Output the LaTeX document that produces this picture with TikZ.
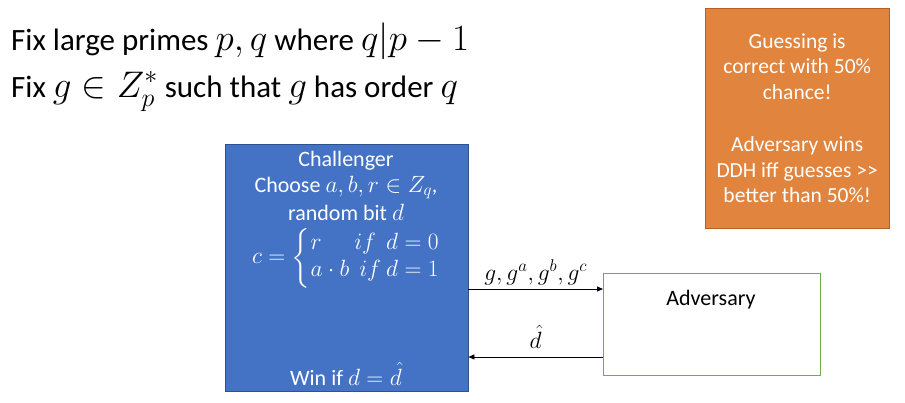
\RequirePackage{fix-cm}
\documentclass[tikz,border=0pt]{standalone}
\usepackage{amsmath}
\usepackage{fontspec}
\setmainfont{Carlito}
\usepackage{tikz}
\usetikzlibrary{arrows.meta}

\DeclareMathSizes{31}{37}{26}{20}
\DeclareMathSizes{22}{23.5}{17}{13}

\definecolor{chblue}{RGB}{68,114,196}
\definecolor{chborder}{RGB}{47,82,143}
\definecolor{noteorange}{RGB}{224,132,62}
\definecolor{noteborder}{RGB}{180,95,40}
\definecolor{advgreen}{RGB}{112,173,71}

\tikzset{
    title/.style={anchor=base west, inner sep=0pt, font=\fontsize{31}{36}\selectfont},
    wtxt/.style={anchor=base, inner sep=0pt, text=white, font=\fontsize{22}{27}\selectfont},
    lbl/.style={anchor=base, inner sep=0pt, font=\fontsize{22}{27}\selectfont},
    msg/.style={-{Triangle[length=6pt,width=5pt]}, line width=0.8pt}
}

\begin{document}
\begin{tikzpicture}[x=1pt, y=-1pt]
        \useasboundingbox (0,0) rectangle (905,402);

        % --- Setup text ---
        \node[title] (fixp) at (11,50) {Fix large primes $p,q$ where $q|p-1$};
        \node[title] (fixg) at (11,97) {Fix $g\in Z_p^*$ such that $g$ has order $q$};
        % ---

        % --- Note box ---
        \node[draw=noteborder, fill=noteorange, text=white, anchor=north west,
              minimum width=184, minimum height=220, inner sep=0pt, align=center,
              font=\fontsize{21.5}{25.8}\selectfont] (note) at (705,8)
            {Guessing is\\correct with 50\%\\chance!\\[25.8pt]Adversary wins\\DDH iff guesses {>}{>}\\better than 50\%!};
        % ---

        % --- Challenger box ---
        \node[draw=chborder, fill=chblue, anchor=north west, minimum width=243,
              minimum height=247, inner sep=0pt] (challenger) at (225,144) {};
        \node[wtxt] (chname) at (346,166) {Challenger};
        \node[wtxt] (choose) at (346,192) {Choose $a,b,r\in Z_q$,};
        \node[wtxt] (rbit) at (346,220) {random bit $d$};
        \node[text=white, inner sep=0pt, font=\fontsize{22}{27}\selectfont] (cdef) at (346,258)
            {$c=\left\{\begin{array}{@{}l@{\ }r@{}} r & if\ \ d=0\\ a\cdot b & if\ d=1\end{array}\right.$};
        \node[wtxt] (win) at (346,385) {Win if $d=\hat{d}$};
        % ---

        % --- Adversary and messages ---
        \node[draw=advgreen, line width=0.8pt, anchor=north west, minimum width=217,
              minimum height=102, inner sep=0pt] (adversary) at (603,273) {};
        \node[lbl] (advname) at (711,305) {Adversary};
        \coordinate (send) at (0,289);
        \coordinate (back) at (0,357);
        \draw[msg] (challenger.east |- send) -- (adversary.west |- send)
            node[lbl, pos=0.5, yshift=9] (gvals) {$g,g^a,g^b,g^c$};
        \draw[msg] (adversary.west |- back) -- (challenger.east |- back)
            node[lbl, pos=0.5, yshift=9] (guess) {$\hat{d}$};
        % ---
    \end{tikzpicture}
\end{document}
